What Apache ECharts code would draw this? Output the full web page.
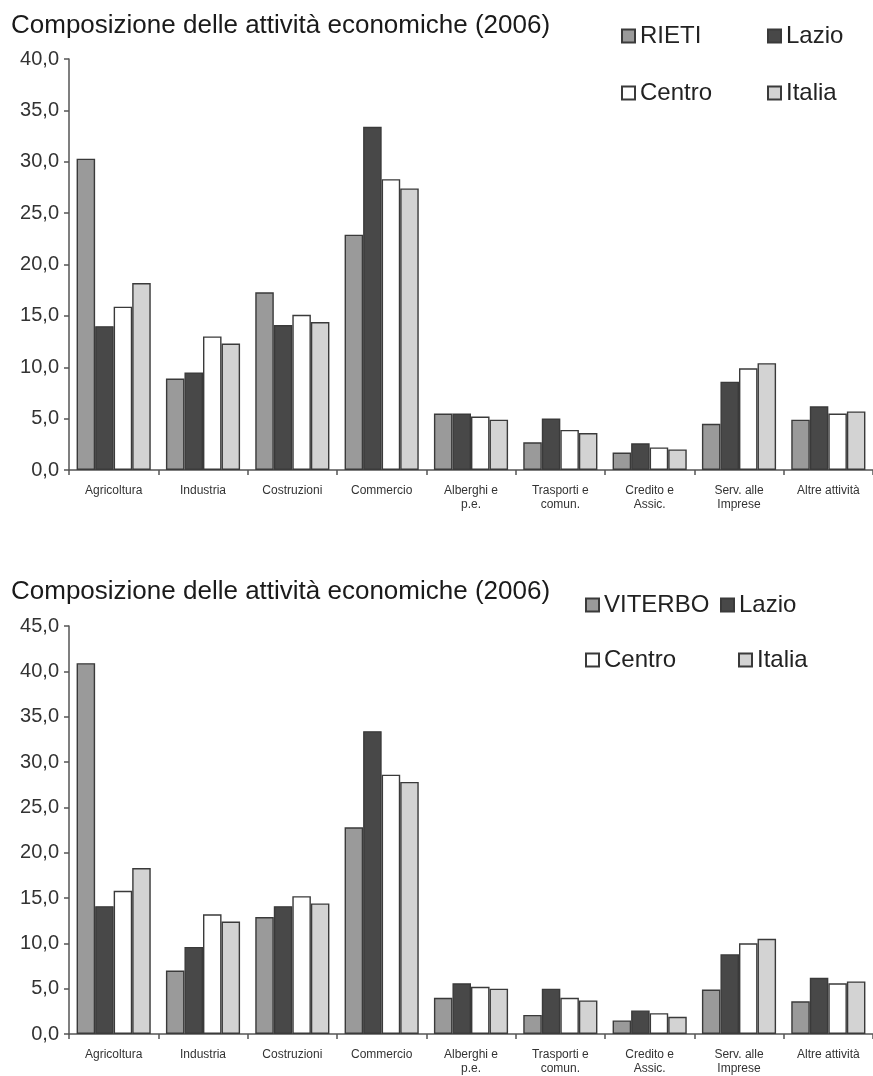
<!DOCTYPE html>
<html>
<head>
<meta charset="utf-8">
<script src="https://cdn.jsdelivr.net/npm/echarts@6/dist/echarts.min.js"></script>
<style>
  html, body { margin: 0; padding: 0; background: #fff; }
  #mains { position: absolute; left: 0; top: 0; width: 873px; height: 540px; }
  #mains1 { position: absolute; left: 0; top: 540px; width: 873px; height: 536px; }
</style>
</head>
<body>
<div id="mains"></div>
<div id="mains1"></div>
<script>
var categories = ["Agricoltura", "Industria", "Costruzioni", "Commercio", "Alberghi e\np.e.", "Trasporti e\ncomun.", "Credito e\nAssic.", "Serv. alle\nImprese", "Altre attività"];

// grafico 1 - Rieti
var rieti = [30.3, 8.9, 17.3, 22.9, 5.5, 2.7, 1.7, 4.5, 4.9];
var lazio1 = [14.0, 9.5, 14.1, 33.4, 5.5, 5.0, 2.6, 8.6, 6.2];
var centro1 = [15.9, 13.0, 15.1, 28.3, 5.2, 3.9, 2.2, 9.9, 5.5];
var italia1 = [18.2, 12.3, 14.4, 27.4, 4.9, 3.6, 2.0, 10.4, 5.7];

// grafico 2 - Viterbo
var viterbo = [40.9, 7.0, 12.9, 22.8, 4.0, 2.1, 1.5, 4.9, 3.6];
var lazio2 = [14.1, 9.6, 14.1, 33.4, 5.6, 5.0, 2.6, 8.8, 6.2];
var centro2 = [15.8, 13.2, 15.2, 28.6, 5.2, 4.0, 2.3, 10.0, 5.6];
var italia2 = [18.3, 12.4, 14.4, 27.8, 5.0, 3.7, 1.9, 10.5, 5.8];

var titleText = "Composizione delle attività economiche (2006)";
var fills = ["#9a9a9a", "#484848", "#ffffff", "#d3d3d3"];
var font = "Liberation Sans, Arial, sans-serif";

function makeSeries(names, values) {
  return names.map(function (n, i) {
    return {
      name: n,
      type: "bar",
      data: values[i],
      barGap: "0%",
      barCategoryGap: "17%",
      itemStyle: { color: fills[i], borderColor: "#3a3a3a", borderWidth: 1.4 },
    };
  });
}

function makeLegends(names, pos) {
  return names.map(function (n, i) {
    return {
      data: [{ name: n, icon: "rect" }],
      left: pos[i][0],
      top: pos[i][1],
      itemWidth: 13,
      itemHeight: 13,
      textStyle: { fontSize: 24, color: "#222", fontFamily: font },
      selectedMode: false,
    };
  });
}

function makeOption(top, bottom, max, names, values, legendPos, titleTop) {
  return {
    backgroundColor: "#fff",
    animation: false,
    title: {
      text: titleText,
      left: 6,
      top: titleTop,
      textStyle: { fontSize: 26, fontWeight: "normal", color: "#1a1a1a", fontFamily: font },
    },
    legend: makeLegends(names, legendPos),
    grid: { left: 69, width: 805, top: top, bottom: bottom },
    xAxis: {
      type: "category",
      data: categories,
      axisLine: { lineStyle: { color: "#555", width: 1.5 } },
      axisTick: { show: true, length: 5, lineStyle: { color: "#555", width: 1.5 } },
      axisLabel: { interval: 0, fontSize: 12, lineHeight: 14, color: "#333", margin: 14, fontFamily: font },
    },
    yAxis: {
      type: "value",
      min: 0,
      max: max,
      interval: 5,
      axisLine: { show: true, lineStyle: { color: "#555", width: 1.5 } },
      axisTick: { show: true, length: 5, lineStyle: { color: "#555", width: 1.5 } },
      axisLabel: {
        fontSize: 20,
        color: "#333",
        margin: 10,
        fontFamily: font,
        formatter: function (v) { return v.toFixed(1).replace(".", ","); },
      },
      splitLine: { show: false },
    },
    series: makeSeries(names, values),
  };
}

var myCharts = echarts.init(document.getElementById("mains"));
myCharts.setOption(makeOption(
  59, 70, 40,
  ["RIETI", "Lazio", "Centro", "Italia"],
  [rieti, lazio1, centro1, italia1],
  [[616, 19], [762, 19], [616, 76], [762, 76]],
  8
));

var myCharts1 = echarts.init(document.getElementById("mains1"));
myCharts1.setOption(makeOption(
  86, 40, 45,
  ["VITERBO", "Lazio", "Centro", "Italia"],
  [viterbo, lazio2, centro2, italia2],
  [[580, 48], [715, 48], [580, 103], [733, 103]],
  34
));
</script>
</body>
</html>
